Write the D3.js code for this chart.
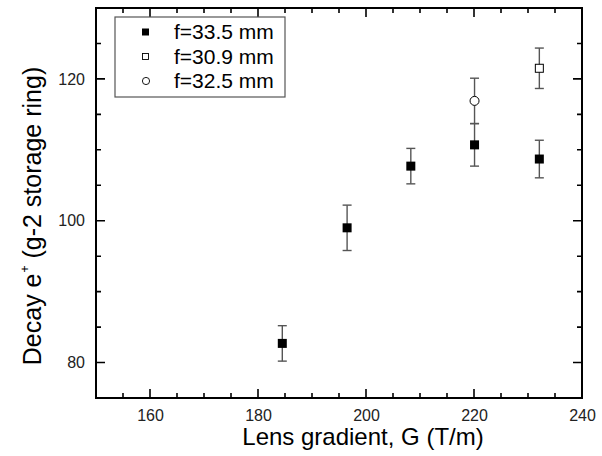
<!DOCTYPE html>
<html>
<head>
<meta charset="utf-8">
<script src="https://cdn.jsdelivr.net/npm/d3@7"></script>
<style>
  body { margin: 0; background: #fff; }
  svg { display: block; font-family: "Liberation Sans", Arial, sans-serif; }
</style>
</head>
<body>
<svg id="chart" width="602" height="456"></svg>
<script>
// f=33.5 mm series (filled squares)
const gradA = [184.5, 196.5, 208.3, 220.1, 232.1];
const decayA = [82.7, 99.0, 107.7, 110.7, 108.7];
const errA = [2.5, 3.2, 2.5, 3.0, 2.65];
// f=30.9 mm series (open square)
const gradB = [232.1];
const decayB = [121.5];
const errB = [2.85];
// f=32.5 mm series (open circle)
const gradC = [220.1];
const decayC = [116.9];
const errC = [3.2];

const legendLabels = ["f=33.5 mm", "f=30.9 mm", "f=32.5 mm"];
const xMajor = [160, 180, 200, 220, 240];
const yMajor = [80, 100, 120];

const width = 602, height = 456;
const margin = { top: 8, right: 20, bottom: 58, left: 96 };
const plotW = width - margin.left - margin.right;
const plotH = height - margin.top - margin.bottom;

const svg = d3.select("#chart");
const g = svg.append("g").attr("transform", `translate(${margin.left},${margin.top})`);

const xScale = d3.scaleLinear().domain([150, 240]).range([0, plotW]);
const yScale = d3.scaleLinear().domain([75, 130]).range([plotH, 0]);

const xMinor = d3.range(155, 240, 5).filter((v) => !xMajor.includes(v));
const yMinor = d3.range(80, 130, 5).filter((v) => !yMajor.includes(v));

// tick labels through d3 axes (tick marks drawn separately, pointing inward)
const xAxis = d3.axisBottom(xScale).tickValues(xMajor).tickSize(0).tickPadding(12).tickFormat(d3.format("d"));
const yAxis = d3.axisLeft(yScale).tickValues(yMajor).tickSize(0).tickPadding(11).tickFormat(d3.format("d"));

[g.append("g").attr("transform", `translate(0,${plotH})`).call(xAxis),
 g.append("g").call(yAxis)].forEach((sel) => {
  sel.select(".domain").remove();
  sel.selectAll("line").remove();
  sel.selectAll("text").attr("font-size", 16).attr("fill", "#222")
    .attr("font-family", "Liberation Sans, Arial, sans-serif");
});

// inward ticks on all four sides
function tickPath(values, len, horizontal) {
  const segs = values.map((v) => {
    if (horizontal) {
      const x = xScale(v);
      return `M${x},${plotH}V${plotH - len}M${x},0V${len}`;
    }
    const y = yScale(v);
    return `M0,${y}H${len}M${plotW},${y}H${plotW - len}`;
  });
  g.append("path").attr("d", segs.join(""))
    .attr("fill", "none").attr("stroke", "#000").attr("stroke-width", 1.6);
}
tickPath(xMajor, 9, true);
tickPath(xMinor, 5, true);
tickPath(yMajor, 9, false);
tickPath(yMinor, 5, false);

// frame
g.append("rect")
  .attr("width", plotW).attr("height", plotH)
  .attr("fill", "none").attr("stroke", "#000").attr("stroke-width", 2);

// error bars
function drawErrors(xs, ys, es) {
  const data = xs.map((x, i) => ({ x, y: ys[i], e: es[i] }));
  const eg = g.append("g").attr("stroke", "#555").attr("stroke-width", 1.4);
  data.forEach((d) => {
    const cx = xScale(d.x);
    eg.append("line").attr("x1", cx).attr("x2", cx)
      .attr("y1", yScale(d.y - d.e)).attr("y2", yScale(d.y + d.e));
    [d.y - d.e, d.y + d.e].forEach((v) => {
      eg.append("line").attr("x1", cx - 4.5).attr("x2", cx + 4.5)
        .attr("y1", yScale(v)).attr("y2", yScale(v));
    });
  });
}
drawErrors(gradA, decayA, errA);
drawErrors(gradB, decayB, errB);
drawErrors(gradC, decayC, errC);

// markers
const sq = 9;
g.selectAll(".ptA").data(gradA).join("rect")
  .attr("x", (d) => xScale(d) - sq / 2)
  .attr("y", (d, i) => yScale(decayA[i]) - sq / 2)
  .attr("width", sq).attr("height", sq).attr("fill", "#000");

g.selectAll(".ptB").data(gradB).join("rect")
  .attr("x", (d) => xScale(d) - (sq - 1) / 2)
  .attr("y", (d, i) => yScale(decayB[i]) - (sq - 1) / 2)
  .attr("width", sq - 1).attr("height", sq - 1)
  .attr("fill", "#fff").attr("stroke", "#000").attr("stroke-width", 1);

g.selectAll(".ptC").data(gradC).join("circle")
  .attr("cx", (d) => xScale(d))
  .attr("cy", (d, i) => yScale(decayC[i]))
  .attr("r", 4.5)
  .attr("fill", "#fff").attr("stroke", "#000").attr("stroke-width", 1);

// legend
const lg = svg.append("g").attr("transform", "translate(115,17)");
lg.append("rect").attr("width", 170).attr("height", 80)
  .attr("fill", "#fff").attr("stroke", "#555").attr("stroke-width", 1.2);
legendLabels.forEach((label, i) => {
  const cy = 15 + i * 24.5;
  if (i === 0) {
    lg.append("rect").attr("x", 27).attr("y", cy - 3.5).attr("width", 7).attr("height", 7).attr("fill", "#000");
  } else if (i === 1) {
    lg.append("rect").attr("x", 27.5).attr("y", cy - 3).attr("width", 6).attr("height", 6)
      .attr("fill", "#fff").attr("stroke", "#000").attr("stroke-width", 0.9);
  } else {
    lg.append("circle").attr("cx", 31).attr("cy", cy).attr("r", 3.6)
      .attr("fill", "#fff").attr("stroke", "#000").attr("stroke-width", 0.9);
  }
  lg.append("text").attr("x", 59).attr("y", cy + 7)
    .attr("font-size", 21).attr("fill", "#000").text(label);
});

// axis titles
svg.append("text")
  .attr("x", 363).attr("y", 445)
  .attr("text-anchor", "middle").attr("font-size", 24).attr("fill", "#000")
  .text("Lens gradient, G (T/m)");

const yt = svg.append("text")
  .attr("transform", "translate(41,216) rotate(-90)")
  .attr("text-anchor", "middle").attr("font-size", 25).attr("fill", "#000");
yt.append("tspan").text("Decay e");
yt.append("tspan").attr("font-size", 12).attr("dy", -12).attr("dx", 1).text("+");
yt.append("tspan").attr("dy", 12).text(" (g-2 storage ring)");
</script>
</body>
</html>
